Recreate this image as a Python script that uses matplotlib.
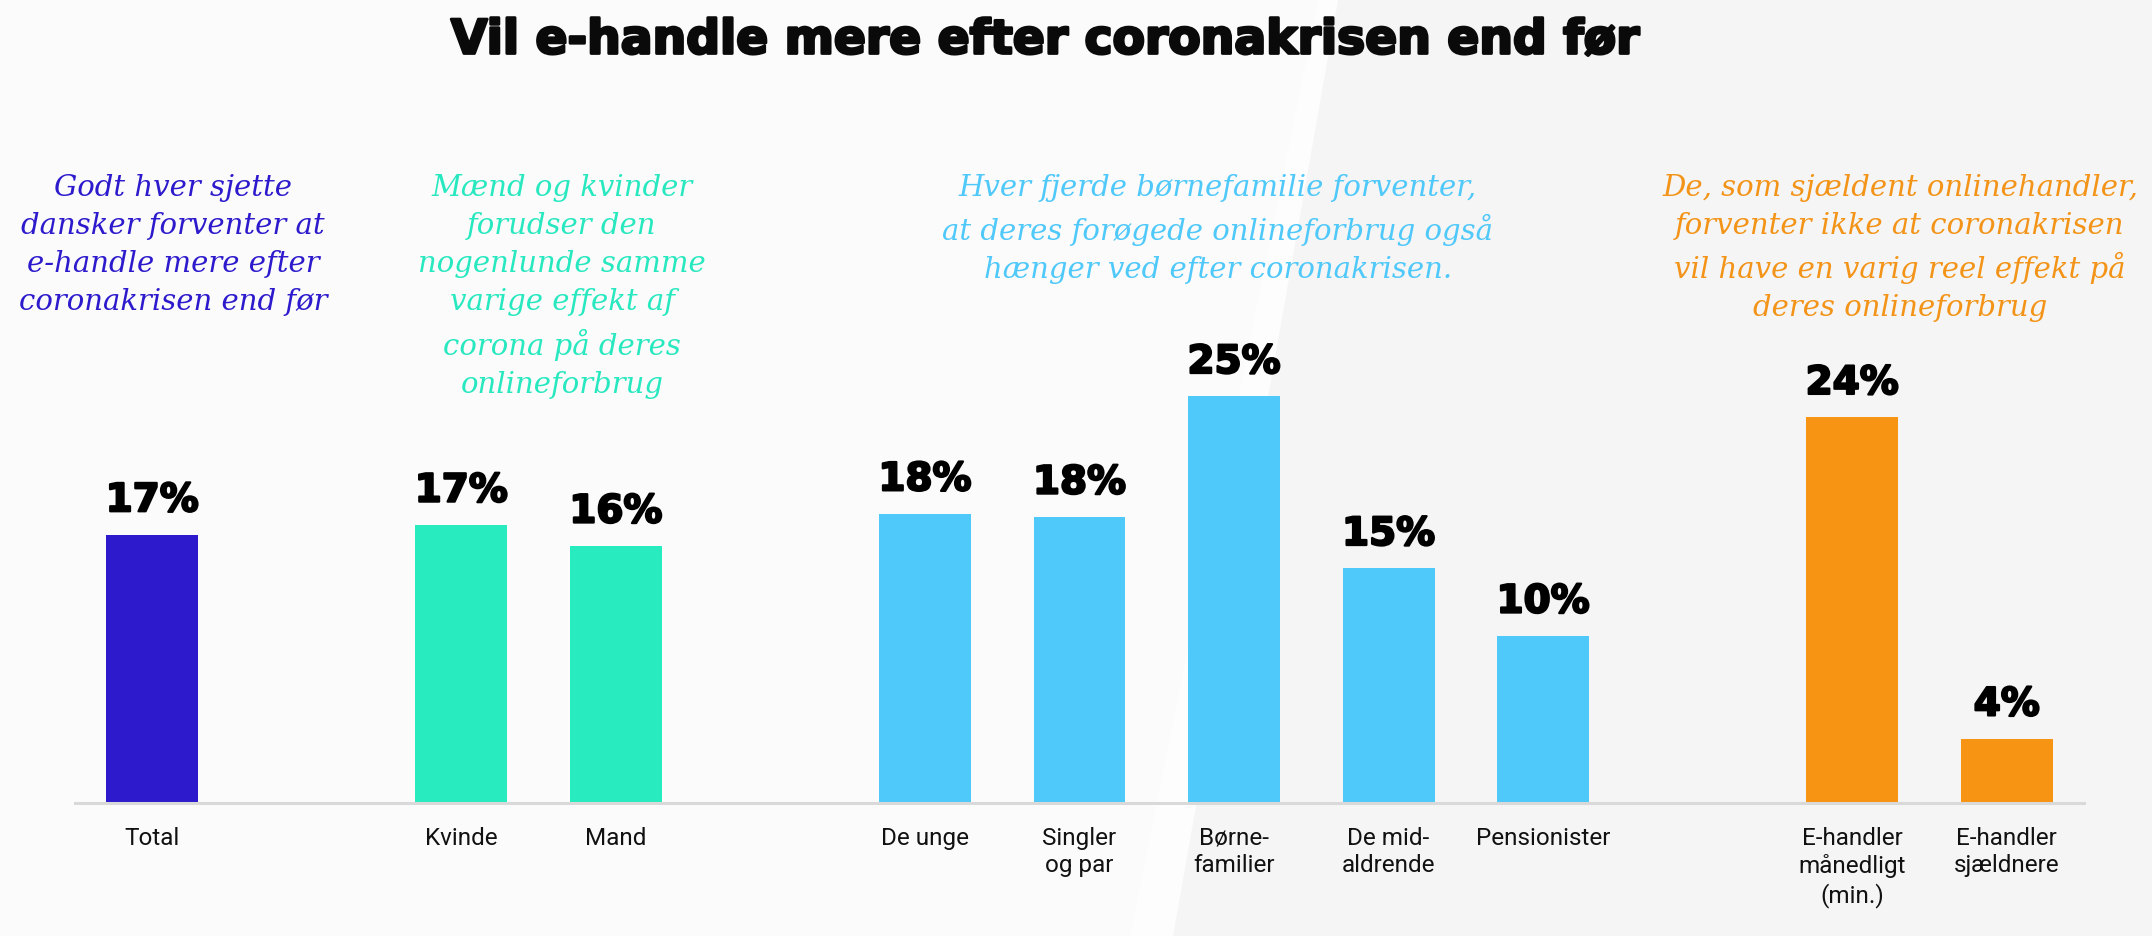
import matplotlib
matplotlib.use("Agg")
import matplotlib.pyplot as plt
import matplotlib.patheffects as pe
from matplotlib.patches import Polygon

title = "Vil e-handle mere efter coronakrisen end før"
categories = ["Total", "Kvinde", "Mand", "De unge", "Singler\nog par", "Børne-\nfamilier",
              "De mid-\naldrende", "Pensionister", "E-handler\nmånedligt\n(min.)", "E-handler\nsjældnere"]
values = [16.7, 17.3, 16.0, 18.0, 17.8, 25.3, 14.6, 10.4, 24.0, 4.0]
slots = [0, 2, 3, 5, 6, 7, 8, 9, 11, 12]
bar_colors = ["#2d1acc", "#28ebc0", "#28ebc0", "#4fc8fa", "#4fc8fa", "#4fc8fa",
              "#4fc8fa", "#4fc8fa", "#f79413", "#f79413"]

notes = [
    "Godt hver sjette\ndansker forventer at\ne-handle mere efter\ncoronakrisen end før",
    "Mænd og kvinder\nforudser den\nnogenlunde samme\nvarige effekt af\ncorona på deres\nonlineforbrug",
    "Hver fjerde børnefamilie forventer,\nat deres forøgede onlineforbrug også\nhænger ved efter coronakrisen.",
    "De, som sjældent onlinehandler,\nforventer ikke at coronakrisen\nvil have en varig reel effekt på\nderes onlineforbrug",
]
note_colors = ["#2d1acc", "#28e8c0", "#4fc8fa", "#f39418"]
note_x = [173, 562, 1218, 1900]

W, H = 2152, 936
fig = plt.figure(figsize=(W / 100, H / 100), dpi=100, facecolor="#fbfbfb")

# background shape
bg = fig.add_axes([0, 0, 1, 1], zorder=0)
bg.set_xlim(0, W); bg.set_ylim(H, 0); bg.axis("off")
bg.add_patch(Polygon([(1338, 0), (W, 0), (W, H), (1173, H)], closed=True,
                     facecolor="#f5f5f5", edgecolor="none"))
bg.add_patch(Polygon([(1318, 0), (1338, 0), (1173, H), (1130, H)], closed=True,
                     facecolor="#fdfdfd", edgecolor="none"))

ax = fig.add_axes([75 / W, (H - 803) / H, (2084 - 75) / W, 643 / H], zorder=1)
ax.patch.set_alpha(0)
ax.bar(slots, values, width=0.595, color=bar_colors, zorder=2)
for s, v in zip(slots, values):
    ax.annotate(f"{round(v)}%", (s, v), xytext=(0, 11), textcoords="offset points",
                ha="center", va="bottom", fontsize=28, fontweight="bold",
                family=["DejaVu Sans"], color="#000000",
                path_effects=[pe.withStroke(linewidth=1.6, foreground="#000000")])
ax.set_xlim(-0.5, 12.5)
ax.set_ylim(0, 40)
ax.set_xticks(slots)
ax.set_xticklabels(categories, fontsize=17.5, family=["Roboto", "DejaVu Sans"],
                   color="#111111", linespacing=1.25)
ax.tick_params(axis="x", length=0, pad=17)
ax.set_yticks([])
for sp in ["top", "left", "right"]:
    ax.spines[sp].set_visible(False)
ax.spines["bottom"].set_color("#d9d9d9")
ax.spines["bottom"].set_linewidth(2.2)

fig.text(1046 / W, 1 - 41 / H, title, ha="center", va="center", fontsize=34,
         fontweight="bold", family=["DejaVu Sans"], color="#0a0a0a",
         path_effects=[pe.withStroke(linewidth=2.0, foreground="#0a0a0a")])

for t, c, x in zip(notes, note_colors, note_x):
    fig.text(x / W, 1 - 174 / H, t, ha="center", va="top", fontsize=21,
             style="italic", family=["DejaVu Serif"], color=c, linespacing=1.46)

fig.savefig("out.png", dpi=100, facecolor=fig.get_facecolor())
